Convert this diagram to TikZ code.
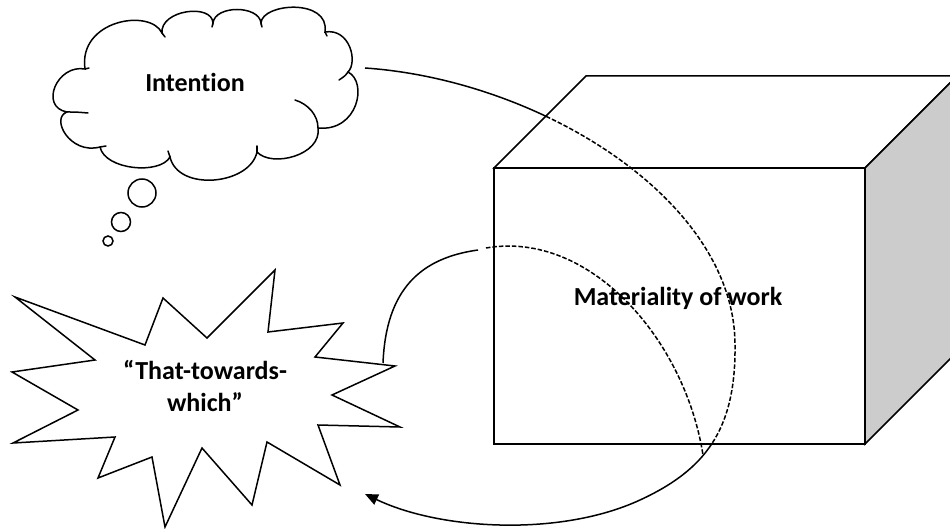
\documentclass[tikz,border=0pt]{standalone}
\usepackage{fontspec}
\setmainfont{Carlito}[Ligatures=NoCommon]
\usetikzlibrary{arrows.meta}
\definecolor{sidegray}{RGB}{204,204,204}
\tikzset{
  outline/.style={draw=black, line width=1.5pt, line join=miter},
  hook/.style={draw=black, line width=1.5pt, line cap=round},
  link/.style={draw=black, line width=1.5pt},
  hidden/.style={link, dash pattern=on 4.5pt off 2pt},
  tag/.style={font=\fontsize{26}{32}\selectfont\bfseries, text=black, align=center, inner sep=0pt},
  tip/.style={-{Triangle[length=13pt,width=11pt]}}
}
\begin{document}
\begin{tikzpicture}[x=1pt,y=-1pt]
\useasboundingbox (0,0) rectangle (950,529);
\clip (0,0) rectangle (950,529);

% connector end points
\coordinate (cloudtail) at (365,68);
\coordinate (reach) at (735,345);
\coordinate (turn) at (640,500);
\coordinate (starhit) at (365,494);
\coordinate (starexit) at (383,363);
\coordinate (enterbox) at (478,250);
\coordinate (resume) at (486,248);
\coordinate (fade) at (703,455);

% long loop from the thought to the goal (solid everywhere first)
\draw[link, tip] (cloudtail) .. controls (540,80) and (735,200) .. (reach)
  .. controls (736,430) and (705,470) .. (turn)
  .. controls (560,537) and (440,530) .. (starhit);

% the block of material
\filldraw[outline, fill=white] (494,168) -- (586,76) -- (957,76) -- (865,168) -- cycle;
\filldraw[outline, fill=sidegray] (865,168) -- (957,76) -- (957,352) -- (865,444) -- cycle;
\filldraw[outline, fill=white] (494,168) rectangle (865,444);
\node[tag] (work) at (678,298) {Materiality of work};

% the part of the loop hidden by the block
\begin{scope}
  \clip (494,444) -- (494,168) -- (586,76) -- (957,76) -- (957,352) -- (865,444) -- cycle;
  \draw[hidden] (cloudtail) .. controls (540,80) and (735,200) .. (reach)
    .. controls (736,430) and (705,470) .. (turn)
    .. controls (560,537) and (440,530) .. (starhit);
\end{scope}

% inner loop from the goal into the block
\draw[link] (starexit) .. controls (386,290) and (420,258) .. (enterbox);
\draw[hidden] (resume) .. controls (590,230) and (685,340) .. (fade);

% thought cloud
\draw[outline, fill=white] (67,112) .. controls (39,107) and (57,64) .. (85,69)
  .. controls (78,20) and (150,8) .. (162,33)
  .. controls (160,10) and (212,3) .. (213,23)
  .. controls (215,5) and (259,5) .. (261,23)
  .. controls (262,3) and (330,-2) .. (325,32)
  .. controls (350,28) and (358,62) .. (348,72)
  .. controls (368,82) and (358,132) .. (318,128)
  .. controls (322,155) and (272,168) .. (257,152)
  .. controls (250,185) and (178,192) .. (170,157)
  .. controls (160,175) and (105,170) .. (100,147)
  .. controls (70,155) and (50,118) .. (67,112) -- cycle;
% puff overlaps inside the cloud
\draw[hook] (348,72) .. controls (345,76) .. (339,80);
\draw[hook] (295,100) .. controls (308,104) and (318,115) .. (318,128);
\draw[hook] (67,112) .. controls (76,112) .. (88,113);
\draw[hook] (257,152) -- (257,146);
\draw[hook] (170,157) -- (168,151);
\draw[hook] (100,147) -- (106,146);
\draw[hook] (162,33) -- (165,37);
\draw[hook] (85,69) -- (89,68);
\draw[hook] (213,23) -- (212,27);
\draw[hook] (261,23) -- (262,27);
\draw[hook] (325,32) -- (327,36);
\node[tag] (intention) at (195,82) {Intention};

% thought bubbles
\draw[outline] (142,193) circle[radius=14];
\draw[outline] (121,222) circle[radius=9.5];
\draw[outline] (108,241) circle[radius=5];

% burst
\draw[outline, fill=white] (15,297) -- (145,345) -- (163,298) -- (207,338) -- (275,270)
  -- (268,332) -- (343,323) -- (315,357) -- (395,366) -- (332,395) -- (400,427)
  -- (318,425) -- (340,485) -- (267,442) -- (252,505) -- (202,448) -- (165,527)
  -- (152,457) -- (98,478) -- (115,437) -- (13,443) -- (78,410) -- (12,372)
  -- (95,360) -- cycle;
\node[tag] (goal) at (205,386) {“That-towards-\\which”};
\end{tikzpicture}
\end{document}
